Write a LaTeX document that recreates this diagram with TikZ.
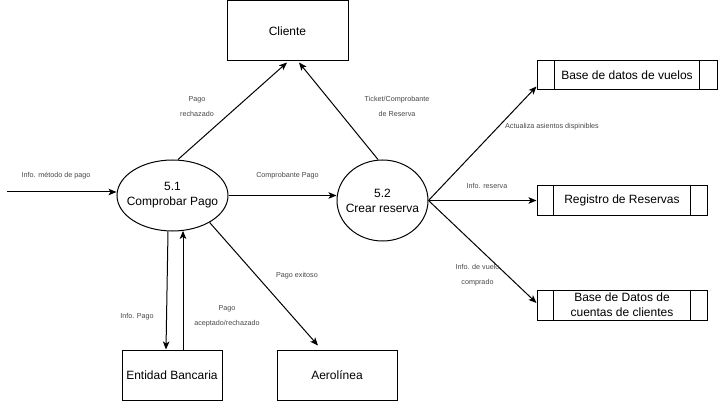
\documentclass[tikz,border=0pt]{standalone}
\usepackage{fontspec}
\setmainfont{Liberation Sans}
\usetikzlibrary{shapes.geometric,arrows.meta,calc}
\begin{document}
\begin{tikzpicture}[x=1pt,y=-1pt,
  every node/.style={font=\fontsize{12}{15}\selectfont},
  box/.style={draw, line width=1pt, rectangle, inner sep=0pt, align=center},
  proc/.style={draw, line width=1pt, ellipse, inner sep=0pt},
  ptext/.style={align=center, inner sep=0pt},
  store/.style={draw, line width=1pt, rectangle, inner sep=0pt, align=center},
  lbl/.style={font=\fontsize{7.2}{15}\selectfont, text=black!72, align=center, inner sep=0pt},
  flow/.style={line width=1pt, -{Stealth[length=8pt,width=6.5pt,inset=2pt]}}]
\useasboundingbox (0,0) rectangle (718,401);

% external entities
\node[box, minimum width=121pt, minimum height=60pt] (cli) at (287.5,31) {Cliente};
\node[box, minimum width=100pt, minimum height=50pt] (ent) at (172,375) {Entidad Bancaria};
\node[box, minimum width=120pt, minimum height=50pt] (aero) at (337,375) {Aerolínea};

% processes
\node[proc, minimum width=111pt, minimum height=71pt] (p1) at (172.5,195.5) {};
\node[ptext] (p1t) at (p1.center) {5.1\\Comprobar Pago};
\node[proc, minimum width=91pt, minimum height=81pt] (p2) at (382.5,200.5) {};
\node[ptext] (p2t) at (p2.center) {5.2\\Crear reserva};

% data stores
\node[store, minimum width=180pt, minimum height=29pt] (vue) at (627,75.5) {Base de datos de vuelos};
\node[store, minimum width=170pt, minimum height=29pt] (reg) at (622,200.5) {Registro de Reservas};
\node[store, minimum width=170pt, minimum height=30pt] (cue) at (622,305) {Base de Datos de\\cuentas de clientes};
\foreach \s/\a/\b in {vue/18/18, reg/17/17, cue/17/17}{
  \draw[line width=1pt] ([xshift=\a pt]\s.north west) -- ([xshift=\a pt]\s.south west);
  \draw[line width=1pt] ([xshift=-\b pt]\s.north east) -- ([xshift=-\b pt]\s.south east);
}

% flows
\coordinate (in) at (7,192);
\draw[flow] (in) -- (p1.west |- in);
\node[lbl] at (56,176) {Info. método de pago};

\draw[flow] (p1.east) -- (p1.east -| p2.west);
\node[lbl] at (287.5,176) {Comprobante Pago};

\draw[flow] ([xshift=5.5pt]p1.north) -- ([xshift=-0.5pt,yshift=-1pt]cli.south);
\node[lbl] at (197,106.5) {Pago\\rechazado};

\draw[flow] ([xshift=-4.5pt]p2.north) -- ([xshift=11.5pt,yshift=-1pt]cli.south);
\node[lbl] at (397,106.5) {Ticket/Comprobante\\de Reserva};

\draw[flow] (p2.east) -- ([yshift=-11pt]vue.west);
\node[lbl] at (552,127) {Actualiza asientos dispinibles};

\draw[flow] (p2.east) -- (p2.east -| reg.west);
\node[lbl] at (487,186) {Info. reserva};

\draw[flow] (p2.east) -- ([yshift=2pt]cue.west);
\node[lbl] at (477.5,275.5) {Info. de vuelo\\comprado};

\draw[flow] (p1.-36) -- ([xshift=-19pt,yshift=4pt]aero.north);
\node[lbl] at (297,276) {Pago exitoso};

\draw[flow] ([xshift=-4.5pt]p1.south) -- ([xshift=-6pt]ent.north);
\node[lbl] at (137,317) {Info. Pago};

\draw[flow] ([xshift=11pt]ent.north) -- ([xshift=10.5pt,yshift=0.6pt]p1.south);
\node[lbl] at (227,316.5) {Pago\\aceptado/rechazado};
\end{tikzpicture}
\end{document}
